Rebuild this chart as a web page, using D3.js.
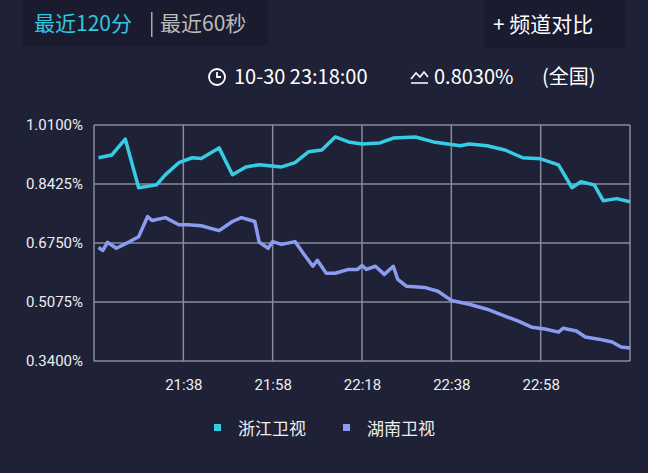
<!DOCTYPE html>
<html><head><meta charset="utf-8">
<script src="https://cdn.jsdelivr.net/npm/d3@7"></script>
<style>
body{margin:0;background:#1f2136;font-family:"Noto Sans CJK SC","Noto Sans",sans-serif}
</style></head>
<body><svg width="648" height="473"></svg>
<script>
// minutes after 21:18 and share (%)
const zjMin = [1,4,7,10,14,16,19,22,24,28,31,34,37,42,45,48,51,54,57,60,64,67,72,76,82,84,88,92,96,100,104,107,109,112,114,117,120]
const zjVal = [0.917,0.925,0.970,0.832,0.840,0.869,0.903,0.917,0.915,0.945,0.869,0.891,0.897,0.891,0.903,0.934,0.939,0.976,0.962,0.956,0.959,0.973,0.976,0.962,0.951,0.956,0.951,0.939,0.917,0.914,0.897,0.832,0.849,0.840,0.795,0.801,0.792]
const hnMin = [1,2,3,5,8,10,12,13,16,19,21,24,28,31,33,36,37,39,40,42,45,47,49,50,52,54,57,59,60,61,63,65,67,68,70,74,77,80,84,88,95,98,101,104,105,108,110,113,116,118,120]
const hnVal = [0.662,0.654,0.677,0.660,0.679,0.693,0.750,0.739,0.747,0.727,0.727,0.724,0.710,0.736,0.747,0.736,0.677,0.660,0.679,0.671,0.679,0.643,0.609,0.626,0.589,0.589,0.600,0.600,0.611,0.600,0.609,0.586,0.609,0.572,0.552,0.549,0.538,0.512,0.501,0.487,0.453,0.436,0.431,0.422,0.433,0.425,0.408,0.402,0.394,0.380,0.377]
const yTicks = [0.34, 0.5075, 0.675, 0.8425, 1.01]
const names = ['浙江卫视', '湖南卫视']
const colors = ['#35cde6', '#8b9bf0']

const svg = d3.select('svg')
const t0 = new Date(2020, 9, 30, 21, 18)
const at = m => new Date(t0.getTime() + m * 60000)

const x = d3.scaleTime().domain([t0, at(120)]).range([94, 630])
const y = d3.scaleLinear().domain([0.34, 1.01]).range([361, 125])

// header boxes
svg.append('rect').attr('x', 22).attr('y', 0).attr('width', 246).attr('height', 46).attr('fill', '#1a1b2e')
svg.append('rect').attr('x', 484).attr('y', 0).attr('width', 142).attr('height', 48).attr('fill', '#1a1b2e')
const hdr = svg.append('g').attr('font-size', 21)
hdr.append('text').attr('x', 34).attr('y', 31).attr('fill', '#35c6e0').text('最近120分')
hdr.append('rect').attr('x', 151).attr('y', 12).attr('width', 1.5).attr('height', 25).attr('fill', '#aaa')
hdr.append('text').attr('x', 160).attr('y', 31).attr('fill', '#bbb').text('最近60秒')
hdr.append('text').attr('x', 493).attr('y', 32).attr('fill', '#fff').text('+ 频道对比')

const info = svg.append('g').attr('fill', '#fff').attr('font-size', 20)
info.append('circle').attr('cx', 217).attr('cy', 77).attr('r', 8).attr('fill', 'none').attr('stroke', '#fff').attr('stroke-width', 1.8)
info.append('path').attr('d', 'M217,72V77H221').attr('fill', 'none').attr('stroke', '#fff').attr('stroke-width', 1.8)
info.append('text').attr('x', 234).attr('y', 84).text('10-30 23:18:00')
info.append('path').attr('d', 'M411,83H428M411,79L416,73L420,77L424,72L428,77').attr('fill', 'none').attr('stroke', '#fff').attr('stroke-width', 1.6)
info.append('text').attr('x', 434).attr('y', 84).text('0.8030%')
info.append('text').attr('x', 542).attr('y', 84).text('(全国)')

// grid
const grid = svg.append('g').attr('stroke', '#8a8b9c').attr('stroke-width', 1.5)
grid.selectAll('.h').data(yTicks).enter().append('line')
  .attr('x1', 94).attr('x2', 630).attr('y1', d => y(d)).attr('y2', d => y(d))
const xTicks = [20, 40, 60, 80, 100].map(at)
grid.selectAll('.v').data([t0, ...xTicks, at(120)]).enter().append('line')
  .attr('x1', d => x(d)).attr('x2', d => x(d)).attr('y1', 125).attr('y2', 361)

svg.append('g').attr('transform', 'translate(86,0)')
  .call(d3.axisLeft(y).tickValues(yTicks).tickSize(0).tickFormat(d => d3.format('.4f')(d) + '%'))
  .call(g => g.select('.domain').remove())
  .selectAll('text').attr('fill', '#eee').attr('font-size', 15).attr('font-family', 'Roboto, sans-serif')

svg.append('g').attr('transform', 'translate(0,376)')
  .call(d3.axisBottom(x).tickValues(xTicks).tickSize(0).tickFormat(d3.timeFormat('%H:%M')))
  .call(g => g.select('.domain').remove())
  .selectAll('text').attr('fill', '#eee').attr('font-size', 15).attr('font-family', 'Roboto, sans-serif')

const line = d3.line().x(d => x(at(d[0]))).y(d => y(d[1]))
const series = [d3.zip(zjMin, zjVal), d3.zip(hnMin, hnVal)]
svg.selectAll('.s').data(series).enter().append('path')
  .attr('d', line).attr('fill', 'none').attr('stroke-width', 3.5)
  .attr('stroke-linejoin', 'round').attr('stroke', (d, i) => colors[i])

const lg = svg.selectAll('.lg').data(names).enter().append('g')
  .attr('transform', (d, i) => `translate(${214 + i * 129},428)`)
lg.append('rect').attr('x', 0).attr('y', -4).attr('width', 7).attr('height', 7).attr('fill', (d, i) => colors[i])
lg.append('text').attr('x', 24).attr('y', 7).attr('fill', '#eee').attr('font-size', 17).text(d => d)
</script></body></html>
